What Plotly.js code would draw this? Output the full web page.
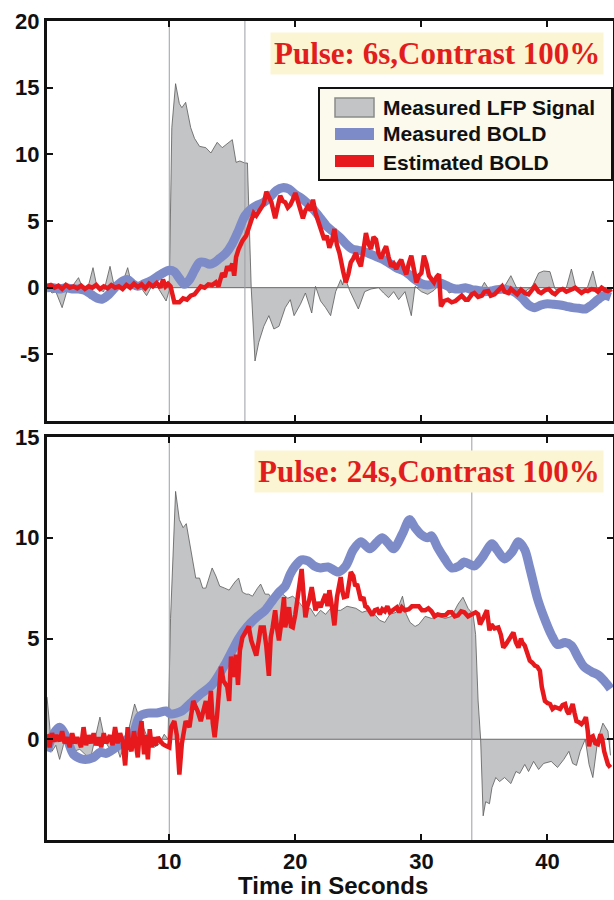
<!DOCTYPE html>
<html>
<head>
<meta charset="utf-8">
<script src="https://cdn.plot.ly/plotly-3.0.1.min.js"></script>
<style>html,body{margin:0;padding:0;background:#fff;}#chart{width:614px;height:900px;}</style>
</head>
<body>
<div id="chart"></div>
<script>
// ---------- DATA (time in s, value) ----------
const pulse6 = [10, 16];
const pulse24 = [10, 34];
const xTicks = [10, 20, 30, 40];
const yTicksTop = [-5, 0, 5, 10, 15, 20];
const yTickTextTop = ['-5', '0', '5', '10', '15', '20'];
const yTicksBot = [0, 5, 10, 15];
const yTickTextBot = ['0', '5', '10', '15'];
const legendNames = ['Measured LFP Signal', 'Measured BOLD', 'Estimated BOLD'];
const panelTitles = ['Pulse: 6s,Contrast 100%', 'Pulse: 24s,Contrast 100%'];
const xTitle = 'Time in Seconds';

// Top panel: 6 s pulse
const lfp6 = [[0.3,0],[0.7,-0.4],[1.0,-0.3],[1.5,-1.5],[1.9,-0.2],[2.3,0.1],[2.8,0.75],[3.2,-0.2],[3.6,0.2],[3.95,1.5],
[4.3,-0.1],[4.8,-0.3],[5.3,1.6],[5.7,-0.2],[6.2,0.1],[6.7,1.5],[7.1,-0.1],[7.6,0.2],[8.2,-0.6],[8.6,0.1],
[9.1,0.0],[9.75,-1.0],[10.0,-0.2],[10.2,12.0],[10.5,15.3],[10.8,13.8],[11.0,13.5],[11.3,13.9],[11.7,12.0],[12.0,11.2],
[12.4,10.6],[12.9,10.5],[13.3,10.1],[13.8,10.9],[14.2,10.5],[14.6,10.8],[15.0,11.1],[15.3,9.4],[15.6,9.5],[16.0,9.35],
[16.2,9.35],[16.5,0],[16.8,-5.5],[17.1,-4.1],[17.5,-2.9],[17.9,-2.1],[18.3,-3.1],[18.7,-2.9],[19.2,-1.5],[19.6,-0.9],
[19.9,-2.1],[20.4,-1.25],[20.8,-0.4],[21.3,-1.9],[21.6,0.1],[22.0,-1.0],[22.4,-1.5],[22.8,-2.1],[23.2,-0.3],[23.6,0.6],
[23.75,0.2],[23.9,0.9],[24.3,-0.2],[25.0,-1.6],[25.5,-0.3],[26.0,-0.1],[26.6,0.0],[27.0,-0.4],[27.4,-0.75],[27.8,-0.3],
[28.2,-0.9],[28.7,-0.3],[29.2,-2.1],[29.5,0.1],[30.0,-0.3],[30.5,-0.5],[31.0,-0.2],[31.6,0.4],[32.2,-0.4],[32.8,-0.2],
[33.4,-0.3],[34.0,-0.1],[34.6,-0.3],[35.0,0.4],[35.4,-0.2],[36.0,-0.3],[36.6,0.1],[37.1,0.9],[37.6,-0.1],[38.2,-0.3],
[38.8,0.1],[39.3,1.1],[39.7,1.25],[40.2,1.2],[40.6,-0.1],[41.0,-0.3],[41.5,0.0],[41.9,1.4],[42.3,-0.2],[42.8,-0.4],
[43.2,0.1],[43.6,1.25],[44.0,-0.3],[44.5,-0.5],[45.0,-0.6]];

const bold6 = [[0.3,0.0],[0.8,0.0],[1.3,-0.1],[1.8,0.0],[2.3,-0.1],[2.8,-0.1],[3.3,-0.2],[3.8,-0.5],[4.3,-0.8],[4.7,-0.85],
[5.1,-0.6],[5.5,-0.2],[5.9,0.2],[6.3,0.5],[6.7,0.6],[7.1,0.3],[7.5,0.1],[8.0,0.3],[8.5,0.5],[9.0,0.8],
[9.5,1.1],[10.0,1.3],[10.4,1.2],[10.8,0.7],[11.2,0.25],[11.6,0.6],[12.0,1.3],[12.4,1.9],[12.8,1.9],[13.2,1.75],
[13.6,1.9],[14.0,2.2],[14.5,2.6],[15.0,3.3],[15.5,4.3],[16.0,5.4],[16.5,5.9],[17.0,6.2],[17.5,6.4],[18.0,6.8],
[18.5,7.3],[19.0,7.5],[19.5,7.4],[20.0,7.0],[20.5,6.7],[21.0,6.3],[21.5,5.8],[22.0,5.2],[22.5,4.6],[23.0,4.2],
[23.5,3.8],[24.0,3.3],[24.5,2.9],[25.0,2.8],[25.5,2.7],[26.0,2.5],[26.5,2.3],[27.0,2.1],[27.5,1.8],[28.0,1.5],
[28.5,1.3],[29.0,1.0],[29.5,0.6],[30.0,0.3],[30.5,0.2],[31.0,0.3],[31.5,0.35],[32.0,0.15],[32.5,-0.05],[33.0,-0.1],
[33.5,0.0],[34.0,-0.15],[34.5,-0.2],[35.0,-0.3],[35.5,-0.25],[36.0,-0.15],[36.5,-0.1],[37.0,-0.2],[37.5,-0.4],[38.0,-0.8],
[38.5,-1.3],[39.0,-1.5],[39.5,-1.3],[40.0,-1.2],[40.5,-1.25],[41.0,-1.3],[41.5,-1.4],[42.0,-1.5],[42.5,-1.55],[43.0,-1.6],
[43.5,-1.3],[44.0,-0.9],[44.5,-0.6],[45.0,-0.7]];

const est6 = [[0.3,0.1],[0.6,0.2],[0.9,0.0],[1.2,0.15],[1.5,-0.1],[1.8,0.2],[2.1,0.0],[2.4,0.1],[2.7,-0.05],[3.0,0.15],
[3.3,-0.1],[3.6,0.1],[3.9,0.0],[4.2,0.2],[4.5,-0.1],[4.8,0.1],[5.1,-0.05],[5.4,0.2],[5.7,0.0],[6.0,0.1],
[6.3,-0.1],[6.6,0.2],[6.9,0.0],[7.2,0.3],[7.5,0.05],[7.8,0.25],[8.1,-0.05],[8.4,0.3],[8.7,0.1],[9.0,0.35],
[9.3,0.0],[9.5,0.6],[9.7,0.1],[9.9,0.3],[10.1,0.1],[10.4,-1.1],[10.8,-1.1],[11.1,-0.8],[11.4,-0.9],[11.7,-0.6],
[12.0,-0.5],[12.2,-0.2],[12.5,0.1],[12.8,0.0],[13.1,0.25],[13.4,0.2],[13.7,0.4],[13.9,0.1],[14.2,1.1],[14.4,0.8],
[14.6,1.6],[14.8,1.3],[15.0,1.8],[15.15,0.9],[15.3,2.3],[15.5,2.9],[15.8,3.5],[16.1,3.9],[16.4,4.9],[16.7,5.6],
[16.9,5.4],[17.2,5.9],[17.5,6.3],[17.7,7.2],[17.9,6.8],[18.1,6.4],[18.4,5.2],[18.6,6.2],[18.8,6.9],[19.0,6.5],
[19.2,6.4],[19.4,6.0],[19.6,6.2],[19.8,6.6],[20.0,7.1],[20.2,6.5],[20.4,5.9],[20.6,5.2],[20.8,5.8],[21.0,6.1],
[21.2,5.8],[21.4,6.6],[21.6,5.6],[21.8,5.0],[22.0,4.3],[22.3,3.6],[22.5,3.9],[22.7,3.0],[22.9,3.5],[23.1,4.4],
[23.3,3.2],[23.5,2.6],[23.8,1.2],[24.0,0.4],[24.2,1.0],[24.4,1.9],[24.6,2.2],[24.8,2.6],[25.0,2.0],[25.2,1.6],
[25.4,2.8],[25.6,4.1],[25.8,3.3],[26.0,2.9],[26.2,3.8],[26.4,3.6],[26.6,2.6],[26.8,2.2],[27.0,2.7],[27.2,3.1],
[27.4,2.3],[27.6,1.6],[27.8,1.8],[28.0,1.4],[28.2,1.8],[28.4,2.1],[28.6,1.5],[28.8,1.0],[29.0,1.8],[29.2,2.4],
[29.4,1.4],[29.6,0.4],[29.8,0.9],[30.0,1.1],[30.2,2.4],[30.4,1.8],[30.6,0.9],[30.8,0.6],[31.0,0.4],[31.2,0.8],
[31.4,1.0],[31.55,-1.4],[31.8,-1.0],[32.1,-0.9],[32.4,-1.1],[32.7,-1.0],[33.0,-0.7],[33.2,-0.6],[33.5,-0.9],[33.7,-0.9],
[34.0,-0.5],[34.2,-0.4],[34.5,-0.7],[34.8,-0.6],[35.0,-0.3],[35.3,-0.25],[35.5,-0.6],[35.8,-0.5],[36.1,-0.2],[36.4,0.1],
[36.6,-0.3],[36.9,-0.4],[37.1,-0.1],[37.4,-0.3],[37.6,-0.5],[37.9,-0.15],[38.2,-0.4],[38.5,-0.5],[38.8,-0.1],[39.0,0.1],
[39.3,-0.3],[39.5,-0.4],[39.8,-0.2],[40.1,-0.1],[40.4,-0.4],[40.6,-0.5],[40.9,-0.2],[41.2,-0.1],[41.5,-0.3],[41.7,-0.25],
[42.0,-0.1],[42.2,0.0],[42.5,-0.3],[42.7,-0.4],[43.0,-0.2],[43.2,-0.25],[43.5,-0.1],[43.8,-0.15],[44.0,-0.3],[44.3,0.0],
[44.6,-0.2],[44.8,-0.25],[45.1,-0.1]];

// Bottom panel: 24 s pulse
const lfp24 = [[0.3,2.1],[0.5,0.6],[0.7,-0.6],[1.0,-0.3],[1.3,-1.0],[1.6,-0.3],[1.9,0.1],[2.4,-0.6],[2.9,-0.5],[3.4,-0.8],
[3.7,-1.1],[4.1,0.0],[4.5,1.1],[4.9,-0.1],[5.4,-0.6],[5.9,-0.5],[6.1,-0.9],[6.6,0.0],[7.25,1.75],[7.6,1.1],
[8.2,0.2],[8.8,-0.4],[9.2,-0.25],[9.6,0.25],[9.9,0.0],[10.1,6.0],[10.5,12.3],[10.8,10.9],[11.1,10.5],[11.35,10.7],
[11.7,9.5],[12.1,8.0],[12.4,8.0],[12.65,7.5],[12.9,7.5],[13.4,8.5],[13.7,8.1],[14.0,7.6],[14.4,7.5],[14.75,7.4],
[15.2,7.8],[15.5,8.0],[15.8,7.3],[16.1,7.2],[16.3,7.2],[16.6,7.1],[17.0,7.5],[17.25,7.7],[17.6,7.2],[17.9,7.2],
[18.2,6.9],[18.6,7.1],[19.0,7.2],[19.4,7.0],[19.8,7.1],[20.3,6.8],[20.8,6.4],[21.2,6.5],[21.6,6.1],[22.0,6.4],
[22.4,6.2],[22.8,6.5],[23.2,6.4],[23.6,6.4],[24.1,6.6],[24.8,6.5],[25.3,6.3],[25.8,6.4],[26.3,6.2],[26.7,5.9],
[27.1,5.8],[27.5,6.2],[28.0,6.3],[28.5,7.1],[28.8,6.2],[29.1,5.8],[29.5,5.6],[29.8,5.7],[30.3,6.1],[30.8,6.0],
[31.3,6.1],[31.9,6.0],[32.4,6.1],[32.9,6.7],[33.3,7.05],[33.7,6.5],[34.1,6.2],[34.3,5.2],[34.5,1.9],[34.7,0.0],
[34.9,-3.8],[35.1,-3.1],[35.4,-3.2],[35.6,-2.4],[35.9,-1.9],[36.2,-2.1],[36.6,-1.9],[37.1,-2.2],[37.5,-1.6],[37.8,-1.7],
[38.2,-1.25],[38.5,-1.6],[38.9,-1.1],[39.3,-1.5],[39.7,-1.2],[40.3,-1.1],[40.8,-1.4],[41.3,-1.0],[41.7,-0.6],[42.0,-1.2],
[42.3,-1.3],[42.6,-0.6],[43.0,0.0],[43.3,-1.25],[43.6,-1.9],[44.0,0.0],[44.4,0.8],[44.8,0.4],[45.0,-0.8]];

const bold24 = [[0.3,-0.6],[0.8,0.25],[1.3,0.6],[1.85,0.1],[2.4,-0.75],[3.2,-1.0],[4.0,-0.9],[4.5,-0.65],[5.0,-0.7],[6.1,-0.25],
[7.1,0.25],[7.65,1.15],[8.3,1.3],[9.0,1.3],[9.75,1.4],[10.1,1.25],[11.0,1.4],[11.7,1.8],[12.4,2.2],[13.4,2.7],
[14.5,3.8],[15.5,5.0],[16.2,5.6],[17.0,6.1],[17.6,6.4],[18.2,6.9],[18.7,7.3],[19.2,7.6],[19.6,8.2],[20.0,8.6],
[20.5,8.9],[21.0,8.85],[21.5,8.6],[22.0,8.5],[22.6,8.55],[23.4,8.3],[24.0,8.6],[24.6,9.4],[25.2,9.8],[25.9,9.45],
[26.5,9.8],[26.9,10.0],[27.4,9.7],[27.8,9.45],[28.5,10.2],[29.05,10.9],[29.5,10.5],[30.0,10.15],[30.5,10.0],[30.8,10.1],
[31.3,9.5],[31.8,9.0],[32.4,8.5],[33.0,8.6],[33.4,8.8],[34.2,8.6],[34.8,9.0],[35.6,9.7],[36.0,9.4],[36.6,8.95],
[37.2,9.3],[37.7,9.8],[38.2,9.4],[38.6,8.5],[39.2,7.0],[39.7,6.1],[40.3,5.2],[40.8,4.7],[41.4,4.8],[41.9,4.65],
[42.4,4.1],[42.9,3.6],[43.5,3.35],[44.0,3.2],[44.5,2.9],[45.0,2.5]];

const est24 = [[0.3,0.25],[0.5,-0.4],[0.7,0.3],[0.9,-0.1],[1.1,0.2],[1.3,-0.1],[1.5,0.4],[1.7,-0.2],[1.9,0.1],[2.1,-0.4],
[2.3,0.3],[2.5,-0.2],[2.7,0.1],[3.0,-0.4],[3.2,0.6],[3.4,-0.3],[3.6,0.2],[3.8,-0.2],[4.0,0.3],[4.2,-0.3],
[4.4,0.1],[4.6,-0.4],[4.8,0.3],[5.0,-0.2],[5.3,0.2],[5.5,-0.3],[5.7,0.6],[5.9,-0.2],[6.1,0.3],[6.3,-0.1],
[6.5,-1.3],[6.7,0.6],[6.8,-0.2],[7.0,-0.6],[7.2,0.4],[7.35,-0.4],[7.5,-0.9],[7.65,0.3],[7.8,0.9],[8.0,-0.75],
[8.15,0.2],[8.3,-1.0],[8.45,0.5],[8.6,-0.4],[8.75,0.1],[8.9,-0.3],[9.1,0.1],[9.3,-0.1],[9.5,-0.25],[9.75,-0.33],
[10.0,-0.4],[10.15,0.6],[10.4,0.9],[10.6,0.2],[10.8,-1.75],[11.0,-0.2],[11.1,0.3],[11.3,0.9],[11.6,0.6],[11.9,1.9],
[12.1,1.6],[12.25,1.4],[12.5,0.9],[12.7,1.5],[12.9,1.9],[13.1,1.0],[13.3,2.4],[13.45,0.8],[13.6,0.1],[13.8,1.25],
[14.1,3.6],[14.3,2.9],[14.6,2.6],[14.75,1.9],[14.9,4.1],[15.15,3.1],[15.3,4.2],[15.45,2.7],[15.6,4.4],[15.8,5.05],
[16.1,5.4],[16.3,5.6],[16.5,4.9],[16.6,4.7],[16.9,4.15],[17.1,4.9],[17.25,5.55],[17.5,5.55],[17.7,4.6],[17.9,3.15],
[18.05,5.05],[18.2,5.55],[18.4,6.4],[18.55,5.5],[18.7,4.9],[18.85,5.6],[19.0,6.55],[19.1,7.05],[19.2,5.55],[19.35,6.2],
[19.5,6.55],[19.65,5.6],[19.8,5.55],[20.0,6.2],[20.15,7.0],[20.3,7.7],[20.5,8.45],[20.65,7.2],[20.8,6.05],[20.95,6.6],
[21.1,6.9],[21.3,7.55],[21.45,6.9],[21.6,6.4],[21.8,6.8],[22.0,6.55],[22.2,6.9],[22.4,7.2],[22.55,6.6],[22.7,7.4],
[22.9,6.6],[23.1,5.65],[23.3,7.05],[23.45,7.6],[23.6,8.05],[23.75,7.3],[23.85,7.05],[24.1,7.1],[24.25,7.6],[24.4,8.3],
[24.6,8.1],[24.75,7.6],[24.9,7.7],[25.05,7.2],[25.2,6.9],[25.4,7.05],[25.55,6.6],[25.7,6.55],[25.9,6.3],[26.1,6.15],
[26.3,6.4],[26.5,6.45],[26.7,6.2],[26.9,6.45],[27.1,6.35],[27.3,6.6],[27.5,6.3],[27.7,6.4],[27.9,6.5],[28.05,6.55],
[28.25,6.3],[28.45,6.55],[28.7,6.4],[29.0,6.45],[29.25,6.6],[29.5,6.6],[29.8,6.6],[30.05,6.4],[30.3,6.4],[30.55,6.5],
[30.8,6.35],[31.05,6.1],[31.3,6.2],[31.6,6.15],[31.9,6.15],[32.15,6.3],[32.4,6.3],[32.65,6.1],[32.9,6.15],[33.15,6.35],
[33.4,6.3],[33.7,6.1],[34.0,6.2],[34.3,6.3],[34.5,6.2],[34.65,5.7],[34.9,6.0],[35.2,6.4],[35.4,5.4],[35.55,5.7],
[35.8,5.5],[36.1,5.55],[36.3,5.2],[36.5,4.55],[36.7,4.7],[36.9,4.9],[37.1,5.0],[37.3,5.3],[37.5,4.8],[37.7,4.55],
[37.9,5.0],[38.0,4.8],[38.2,4.65],[38.4,4.3],[38.6,3.9],[38.8,3.8],[39.0,3.65],[39.2,3.6],[39.4,3.4],[39.55,2.6],
[39.7,2.2],[39.8,1.9],[40.0,1.8],[40.2,1.75],[40.4,1.5],[40.6,1.6],[40.8,1.55],[41.0,1.5],[41.2,1.7],[41.4,1.75],
[41.55,1.4],[41.7,1.25],[41.85,1.5],[42.0,1.75],[42.15,1.3],[42.3,0.9],[42.5,0.85],[42.7,0.75],[42.9,0.9],[43.05,1.1],
[43.2,0.4],[43.3,-0.35],[43.45,0.1],[43.6,0.15],[43.8,-0.2],[44.0,-0.25],[44.2,0.25],[44.35,0.0],[44.5,-0.6],[44.65,-1.0],
[44.8,-1.25],[45.0,-1.4]];

const xRange = [0.3, 45.2];

// ---------- STYLE ----------
const GRAY_FILL = '#c3c4c6', GRAY_EDGE = '#5a5a5a';
const BLUE = '#7d8bc9', RED = '#e8191c';
const SANS = 'Liberation Sans, Arial, sans-serif';
const SERIF = 'Liberation Serif, Times New Roman, serif';

const xs = a => a.map(p => p[0]);
const ys = a => a.map(p => p[1]);

function panel(lfp, bold, est, pulse, xa, ya, yr) {
  const tr = [];
  tr.push({x: xs(lfp), y: ys(lfp), xaxis: xa, yaxis: ya, type: 'scatter', mode: 'lines',
    fill: 'tozeroy', fillcolor: GRAY_FILL, line: {color: GRAY_EDGE, width: 0.8},
    name: legendNames[0], hoverinfo: 'skip'});
  tr.push({x: xRange, y: [0, 0], xaxis: xa, yaxis: ya, mode: 'lines',
    line: {color: '#6a6a6a', width: 1}, hoverinfo: 'skip'});
  pulse.forEach(p => tr.push({x: [p, p], y: yr, xaxis: xa, yaxis: ya,
    mode: 'lines', line: {color: '#9c9ea3', width: 1}, hoverinfo: 'skip'}));
  tr.push({x: xs(bold), y: ys(bold), xaxis: xa, yaxis: ya, mode: 'lines',
    line: {color: BLUE, width: 9, shape: 'spline', smoothing: 0.8},
    name: legendNames[1], hoverinfo: 'skip'});
  tr.push({x: xs(est), y: ys(est), xaxis: xa, yaxis: ya, mode: 'lines',
    line: {color: RED, width: 4.5}, name: legendNames[2], hoverinfo: 'skip'});
  return tr;
}

const data = panel(lfp6, bold6, est6, pulse6, 'x', 'y', [-10, 20])
  .concat(panel(lfp24, bold24, est24, pulse24, 'x2', 'y2', [-5, 15]));

const axisCommon = {
  showline: true, linewidth: 3, linecolor: '#111', mirror: 'ticks',
  ticks: 'inside', ticklen: 6, tickwidth: 2, tickcolor: '#111',
  showgrid: false, zeroline: false,
  tickfont: {family: SANS, size: 22, color: '#111', weight: 'bold'}
};

// pixel -> paper helpers (plot area: x 47..613, y 21..840)
const PX = px => (px - 47) / 566;
const PY = py => (840 - py) / 819;

const shapes = [
  {type: 'rect', xref: 'paper', yref: 'paper', x0: PX(319), x1: PX(612), y0: PY(180), y1: PY(88),
   fillcolor: '#fbfaec', line: {color: '#111', width: 2}, layer: 'above'},
  {type: 'rect', xref: 'paper', yref: 'paper', x0: PX(335), x1: PX(374), y0: PY(117), y1: PY(98),
   fillcolor: GRAY_FILL, line: {color: '#8a8a8a', width: 1.5}, layer: 'above'},
  {type: 'line', xref: 'paper', yref: 'paper', x0: PX(335), x1: PX(374), y0: PY(134), y1: PY(134),
   line: {color: BLUE, width: 12}, layer: 'above'},
  {type: 'line', xref: 'paper', yref: 'paper', x0: PX(335), x1: PX(374), y0: PY(161), y1: PY(161),
   line: {color: RED, width: 12}, layer: 'above'}
];

const legendText = (txt, py) => ({text: txt, xref: 'paper', yref: 'paper', x: PX(381), y: PY(py),
  xanchor: 'left', yanchor: 'middle', showarrow: false,
  font: {family: SANS, size: 21, color: '#111', weight: 'bold'}});

const titleBox = (txt, py) => ({text: txt, xref: 'paper', yref: 'paper', x: PX(604), y: PY(py),
  xanchor: 'right', yanchor: 'middle', showarrow: false, bgcolor: '#fcf5d3', borderpad: 3,
  font: {family: SERIF, size: 31, color: '#e21d1d', weight: 'bold'}});

const layout = {
  width: 614, height: 900,
  margin: {l: 47, r: 1, t: 21, b: 60},
  paper_bgcolor: '#fff', plot_bgcolor: '#fff',
  showlegend: false,
  xaxis: Object.assign({}, axisCommon, {domain: [0, 1], range: xRange, anchor: 'y',
    tickvals: xTicks, showticklabels: false}),
  yaxis: Object.assign({}, axisCommon, {domain: [PY(421), 1], range: [-10, 20], anchor: 'x',
    tickvals: yTicksTop, ticktext: yTickTextTop}),
  xaxis2: Object.assign({}, axisCommon, {domain: [0, 1], range: xRange, anchor: 'y2',
    tickvals: xTicks, ticktext: xTicks.map(String)}),
  yaxis2: Object.assign({}, axisCommon, {domain: [0, PY(437)], range: [-5, 15], anchor: 'x2',
    tickvals: yTicksBot, ticktext: yTickTextBot}),
  shapes: shapes,
  annotations: [
    titleBox(panelTitles[0], 54),
    titleBox(panelTitles[1], 471),
    legendText(legendNames[0], 108),
    legendText(legendNames[1], 134),
    legendText(legendNames[2], 162),
    {text: xTitle, xref: 'paper', yref: 'paper', x: PX(333), y: PY(885), xanchor: 'center', yanchor: 'middle',
     showarrow: false, font: {family: SANS, size: 24, color: '#111', weight: 'bold'}}
  ]
};

Plotly.newPlot('chart', data, layout, {displayModeBar: false, staticPlot: true});
</script>
</body>
</html>
